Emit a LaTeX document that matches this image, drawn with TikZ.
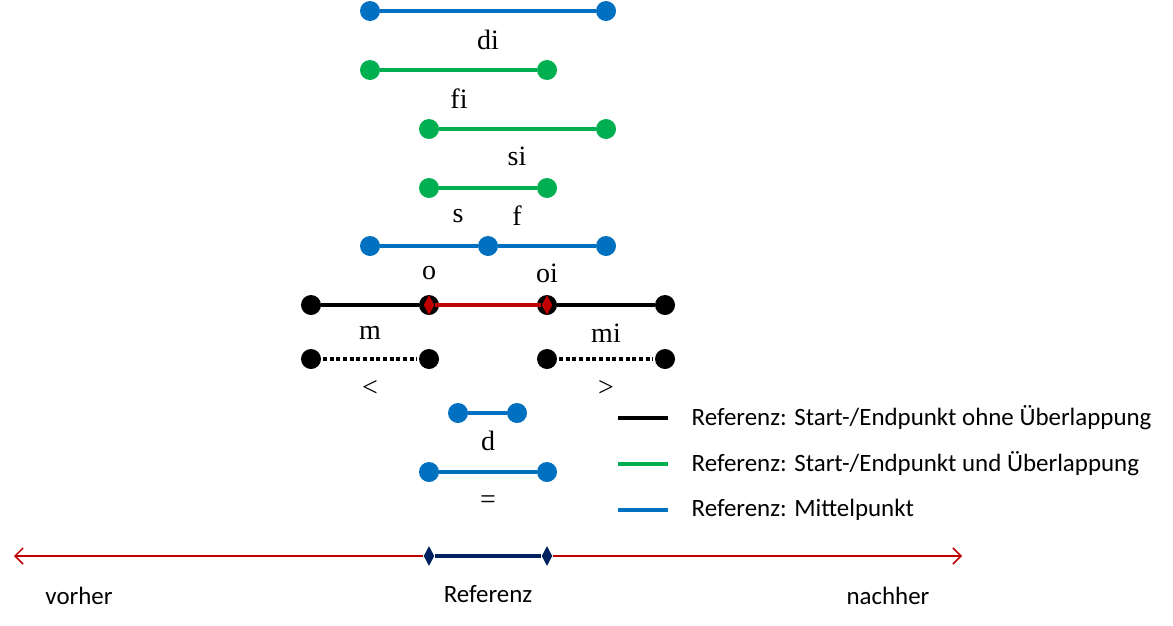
\documentclass[tikz,border=0pt]{standalone}
\usepackage{fontspec}
\newfontfamily\sansfont{Carlito}
\newfontfamily\relfont{Liberation Serif}
\usetikzlibrary{shapes.geometric, arrows.meta}
\definecolor{iblue}{HTML}{0070C0}
\definecolor{igreen}{HTML}{00B050}
\definecolor{ired}{HTML}{C00000}
\definecolor{inavy}{HTML}{002060}
\tikzset{
	pt/.style = {circle, inner sep = 0pt, minimum size = 15pt, fill = #1},
	seg/.style = {line width = 3pt, #1},
	rel/.style = {font = \relfont\fontsize{21}{24}\selectfont},
	txt/.style = {font = \sansfont\fontsize{18.7}{22}\selectfont},
	mark/.style = {diamond, inner sep = 0pt, minimum width = 8pt, minimum height = 15pt, fill = #1},
}
\begin{document}
\begin{tikzpicture}[x = 0.75pt, y = -0.75pt]
		\useasboundingbox (0,0) rectangle (1173,625);
		
		% di
		\node [pt = iblue] (di1) at (370,11) {};
		\node [pt = iblue] (di2) at (606,11) {};
		\draw [seg = iblue] (di1) -- (di2);
		\node [rel] (ldi) at (488,40) {di};
		
		% fi
		\node [pt = igreen] (fi1) at (370,70) {};
		\node [pt = igreen] (fi2) at (547,70) {};
		\draw [seg = igreen] (fi1) -- (fi2);
		\node [rel] (lfi) at (459,99) {fi};
		
		% si
		\node [pt = igreen] (si1) at (429,129) {};
		\node [pt = igreen] (si2) at (606,129) {};
		\draw [seg = igreen] (si1) -- (si2);
		\node [rel] (lsi) at (517,156) {si};
		
		% s, f
		\node [pt = igreen] (sf1) at (429,188) {};
		\node [pt = igreen] (sf2) at (547,188) {};
		\draw [seg = igreen] (sf1) -- (sf2);
		\node [rel] (ls) at (458,216) {s};
		\node [rel] (lf) at (517,216) {f};
		
		% o, oi
		\node [pt = iblue] (oo1) at (370,246) {};
		\node [pt = iblue] (oo2) at (488,246) {};
		\node [pt = iblue] (oo3) at (606,246) {};
		\draw [seg = iblue] (oo1) -- (oo2) -- (oo3);
		\node [rel] (lo) at (429,273) {o};
		\node [rel] (loi) at (547,273) {oi};
		
		% m, mi
		\begin{scope}
			\node [pt = black] (mm1) at (311,305) {};
			\node [pt = black] (mm2) at (429,305) {};
			\node [pt = black] (mm3) at (547,305) {};
			\node [pt = black] (mm4) at (665,305) {};
			\draw [seg = black] (mm1) -- (mm2);
			\draw [seg = black] (mm3) -- (mm4);
			\node [mark = ired] (rd1) at (mm2) {};
			\node [mark = ired] (rd2) at (mm3) {};
			\draw [seg = ired] (rd1) -- (rd2);
		\end{scope}
		\node [rel] (lm) at (370,333) {m};
		\node [rel] (lmi) at (606,333) {mi};
		
		% <, >
		\begin{scope}[seg = black, dash pattern = on 3pt off 2pt]
			\node [pt = black] (ll1) at (311,359) {};
			\node [pt = black] (ll2) at (429,359) {};
			\node [pt = black] (gg1) at (547,359) {};
			\node [pt = black] (gg2) at (665,359) {};
			\draw (ll1) -- (ll2);
			\draw (gg1) -- (gg2);
		\end{scope}
		\node [rel] (llt) at (370,388) {<};
		\node [rel] (lgt) at (606,388) {>};
		
		% d
		\node [pt = iblue] (dd1) at (458,413) {};
		\node [pt = iblue] (dd2) at (517,413) {};
		\draw [seg = iblue] (dd1) -- (dd2);
		\node [rel] (ld) at (488,441) {d};
		
		% =
		\node [pt = iblue] (eq1) at (429,472) {};
		\node [pt = iblue] (eq2) at (547,472) {};
		\draw [seg = iblue] (eq1) -- (eq2);
		\node [rel] (leq) at (488,502) {=};
		
		% legend
		\foreach \y/\c/\t [count = \i] in {418/black/ohne, 464/igreen/und}
		{
			\coordinate (ka\i) at (618,\y);
			\coordinate (kb\i) at (668,\y);
			\draw [seg = \c] (ka\i) -- (kb\i);
			\node [txt, anchor = west] (key\i) at (687,\y) {Referenz: Start-/Endpunkt \t{} Überlappung};
		}
		\coordinate (ka3) at (618,510);
		\coordinate (kb3) at (668,510);
		\draw [seg = iblue] (ka3) -- (kb3);
		\node [txt, anchor = west] (key3) at (687,510) {Referenz: Mittelpunkt};
		
		% axis
		\coordinate (past) at (14,556);
		\coordinate (future) at (962,556);
		\node [mark = inavy] (ref1) at (429,556) {};
		\node [mark = inavy] (ref2) at (547,556) {};
		\begin{scope}[ired, line width = 1.1pt, -{Straight Barb[length = 6pt, width = 12pt]}]
			\draw (ref1) -- (past);
			\draw (ref2) -- (future);
		\end{scope}
		\draw [seg = inavy] (ref1) -- (ref2);
		\node [txt] (lpast) at (79,596) {vorher};
		\node [txt] (lref) at (488,594) {Referenz};
		\node [txt] (lfuture) at (888,596) {nachher};
	\end{tikzpicture}
\end{document}
